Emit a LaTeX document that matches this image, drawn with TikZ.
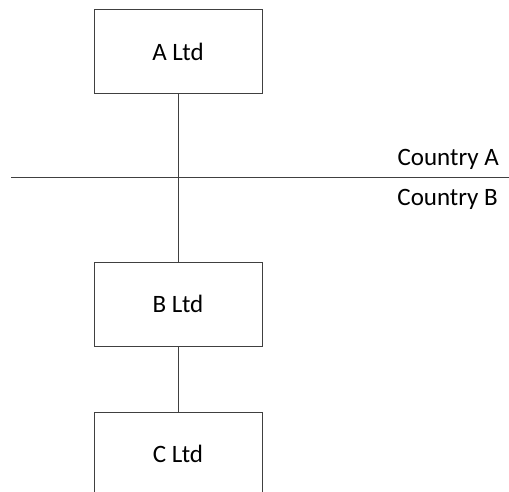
\documentclass[tikz,border=0pt]{standalone}
\usepackage{fontspec}
\setmainfont{Carlito}
\usetikzlibrary{positioning}
\begin{document}
\begin{tikzpicture}[x=1pt,y=-1pt]

    \tikzset{
      entity/.style={
        draw=black!75,
        line width=1pt,
        minimum width=168pt,
        minimum height=84pt,
        inner sep=0pt,
        font=\fontsize{25}{30}\selectfont,
      },
      country/.style={
        anchor=base east,
        inner sep=0pt,
        font=\fontsize{25}{30}\selectfont,
      },
      link/.style={
        draw=black!75,
        line width=1pt,
      },
    }
    \useasboundingbox (0,0) rectangle (509,492);
    \clip (0,0) rectangle (509,492);

	\node[entity] (aLtd) at (178,52) {A Ltd};
	\node[entity] (bLtd) at (178,304) {B Ltd};
	\node[entity] (cLtd) at (178,454) {C Ltd};

	\coordinate (borderW) at (11,178);
	\coordinate (borderE) at (509,178);
	\node[country] (ctryA) at (499,166) {Country A};
	\node[country] (ctryB) at (498,206) {Country B};

	\draw[link] (borderW)--(borderE);
	\draw[link] (aLtd)--(bLtd);
	\draw[link] (bLtd)--(cLtd);

\end{tikzpicture}
\end{document}
